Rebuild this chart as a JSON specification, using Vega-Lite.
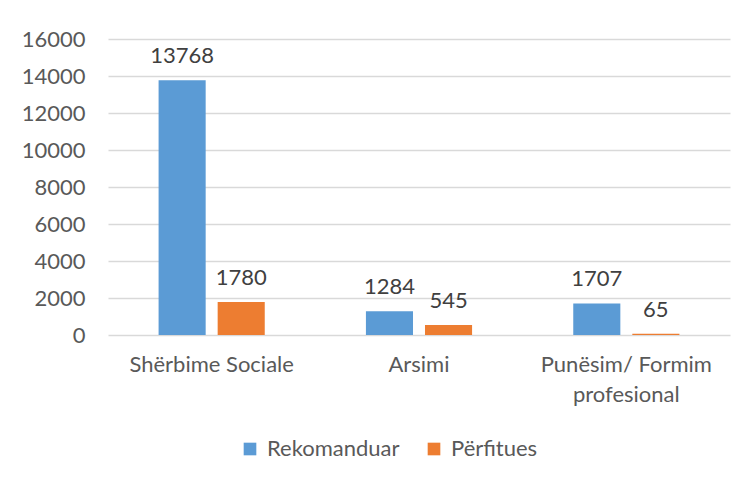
{
  "$schema": "https://vega.github.io/schema/vega-lite/v6.json",
  "autosize": {"type": "none"},
  "width": 622,
  "height": 296,
  "padding": {"left": 108, "top": 39, "right": 18, "bottom": 145},
  "background": "white",
  "config": {
    "font": "Lato",
    "view": {"stroke": null}
  },
  "data": {
    "values": [
      {"category": "Shërbime Sociale", "series": "Rekomanduar", "value": 13768},
      {"category": "Shërbime Sociale", "series": "Përfitues", "value": 1780},
      {"category": "Arsimi", "series": "Rekomanduar", "value": 1284},
      {"category": "Arsimi", "series": "Përfitues", "value": 545},
      {"category": "Punësim/ Formim profesional", "series": "Rekomanduar", "value": 1707},
      {"category": "Punësim/ Formim profesional", "series": "Përfitues", "value": 65}
    ]
  },
  "encoding": {
    "x": {
      "field": "category",
      "type": "nominal",
      "sort": null,
      "scale": {"paddingInner": 0.488, "paddingOuter": 0.244},
      "axis": {
        "title": null,
        "domain": false,
        "ticks": false,
        "tickSize": 0,
        "labelAngle": 0,
        "labelFontSize": 22,
        "labelColor": "#595959",
        "labelPadding": 19,
        "labelLineHeight": 30,
        "labelExpr": "datum.label == 'Punësim/ Formim profesional' ? ['Punësim/ Formim', 'profesional'] : datum.label"
      }
    },
    "xOffset": {
      "field": "series",
      "type": "nominal",
      "sort": ["Rekomanduar", "Përfitues"],
      "scale": {"paddingInner": 0.203, "paddingOuter": 0}
    },
    "y": {
      "field": "value",
      "type": "quantitative",
      "scale": {"domain": [0, 16000], "nice": false},
      "axis": {
        "title": null,
        "values": [0, 2000, 4000, 6000, 8000, 10000, 12000, 14000, 16000],
        "format": "d",
        "domain": false,
        "ticks": false,
        "tickSize": 0,
        "labelFontSize": 22,
        "labelColor": "#595959",
        "labelPadding": 23,
        "gridColor": "#d9d9d9",
        "gridWidth": 1.5
      }
    }
  },
  "layer": [
    {
      "mark": {"type": "bar"},
      "encoding": {
        "color": {
          "field": "series",
          "type": "nominal",
          "sort": ["Rekomanduar", "Përfitues"],
          "scale": {"domain": ["Rekomanduar", "Përfitues"], "range": ["#5b9bd5", "#ed7d31"]},
          "legend": {
            "title": null,
            "orient": "none",
            "direction": "horizontal",
            "legendX": 131,
            "legendY": 399,
            "symbolType": "square",
            "symbolSize": 160,
            "symbolStrokeWidth": 0,
            "labelFontSize": 22,
            "labelColor": "#595959",
            "labelOffset": 6,
            "columnPadding": 23
          }
        }
      }
    },
    {
      "mark": {"type": "text", "baseline": "alphabetic", "dy": -17, "fontSize": 22, "color": "#404040"},
      "encoding": {
        "text": {"field": "value", "type": "quantitative", "format": "d"}
      }
    }
  ]
}
